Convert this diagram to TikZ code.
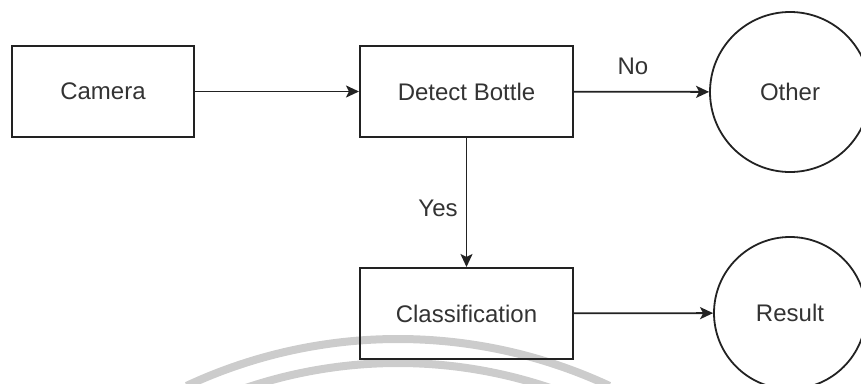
\documentclass[tikz,border=0pt]{standalone}
\usepackage{fontspec}
\setmainfont{Liberation Sans}
\usetikzlibrary{arrows.meta}
\definecolor{ink}{HTML}{222222}
\definecolor{txt}{HTML}{333333}
\definecolor{wm}{HTML}{CCCCCC}
\tikzset{
  box/.style={draw=ink, line width=2pt, rectangle, minimum width=182pt, minimum height=91pt, inner sep=0pt, text=txt, font=\fontsize{24}{28}\selectfont},
  wbox/.style={box, minimum width=213pt},
  circ/.style={draw=ink, line width=1.8pt, circle, inner sep=0pt, text=txt, font=\fontsize{24}{28}\selectfont},
  conn/.style={draw=ink, line width=1.8pt, -{Stealth[length=13pt,width=12pt,inset=3pt]}},
  lbl/.style={text=txt, font=\fontsize{24}{28}\selectfont, inner sep=0pt}
}
\begin{document}
\begin{tikzpicture}[x=1pt,y=-1pt]
\useasboundingbox (0,0) rectangle (861,383);
\begin{scope}
\clip (0,0) rectangle (861,383);
\draw[wm, line width=8pt] (398,839) ++(-115:500) arc[start angle=-115, end angle=-65, radius=500];
\draw[wm, line width=8pt] (398,839) ++(-110:476) arc[start angle=-110, end angle=-70, radius=476];
\node[box] (cam) at (103,91.5) {Camera};
\node[wbox] (det) at (466.5,91.5) {Detect Bottle};
\node[wbox] (cls) at (466.5,313.5) {Classification};
\node[circ, minimum size=160pt] (oth) at (790,92) {Other};
\node[circ, minimum size=152pt] (res) at (790,313) {Result};
\draw[conn] (cam) -- (det);
\draw[conn] (det) -- (oth);
\draw[conn] (det) -- (cls);
\draw[conn] (cls) -- (res);
\node[lbl] (no) at (633,66) {No};
\node[lbl] (yes) at (438,208) {Yes};
\end{scope}
\end{tikzpicture}
\end{document}
